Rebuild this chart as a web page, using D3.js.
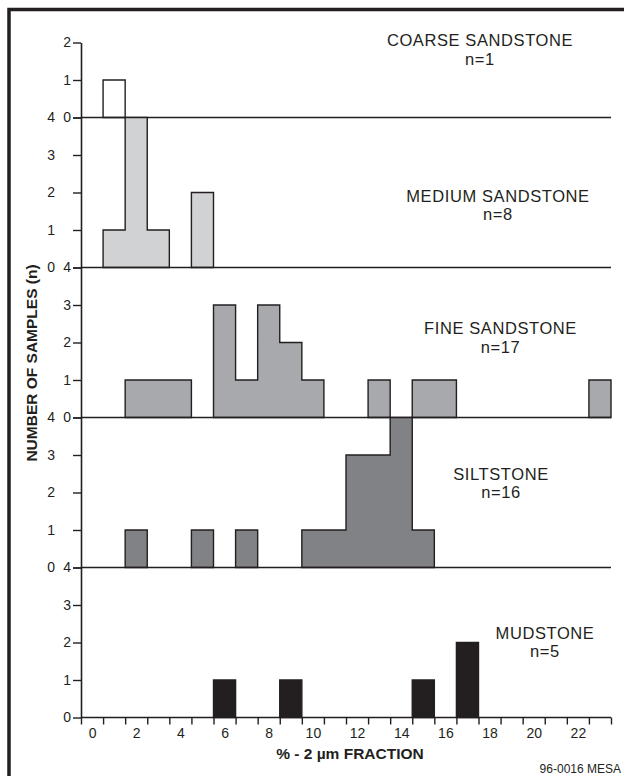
<!DOCTYPE html>
<html><head><meta charset="utf-8">
<script src="https://cdn.jsdelivr.net/npm/d3@7/dist/d3.min.js"></script>
<style>
html,body{margin:0;padding:0;background:#fff;}
svg{display:block;font-family:"Liberation Sans",Arial,Helvetica,sans-serif;}
</style></head><body>
<svg id="chart" width="624" height="776"></svg>
<script>
// ---- data ----
const bins = d3.range(0, 24);              // % -2 µm fraction bins (centres)
const panels = ["COARSE SANDSTONE", "MEDIUM SANDSTONE", "FINE SANDSTONE", "SILTSTONE", "MUDSTONE"];
const sampleN = [1, 8, 17, 16, 5];
const panelMax = [2, 4, 4, 4, 4];
const coarse = [0,1,0,0,0,0,0,0,0,0,0,0,0,0,0,0,0,0,0,0,0,0,0,0];
const medium = [0,1,4,1,0,2,0,0,0,0,0,0,0,0,0,0,0,0,0,0,0,0,0,0];
const fine   = [0,0,1,1,1,0,3,1,3,2,1,0,0,1,0,1,1,0,0,0,0,0,0,1];
const silt   = [0,0,1,0,0,1,0,1,0,0,1,1,3,3,4,1,0,0,0,0,0,0,0,0];
const mud    = [0,0,0,0,0,0,1,0,0,1,0,0,0,0,0,1,0,2,0,0,0,0,0,0];
const series = [coarse, medium, fine, silt, mud];
const xLabels = [0,2,4,6,8,10,12,14,16,18,20,22];

// ---- styles ----
const ink = "#231f20";
const fills = ["#ffffff", "#d1d2d4", "#a7a9ac", "#808285", "#231f20"];
const labelPos = [[480, 46], [498, 201.5], [500.5, 334], [501, 479.5], [545, 638.5]];
const tickPad = [2, 18, 2, 18, 2];

const svg = d3.select("#chart");
// frame
svg.append("path").attr("d", "M9,776 V9.5 H624").attr("fill","none")
   .attr("stroke", ink).attr("stroke-width", 3.5);

const x = d3.scaleLinear().domain([-0.5, 23.5]).range([81, 611]);
const panelH = 150, base0 = 117.5;

series.forEach((vals, i) => {
  const yBase = base0 + panelH * i;
  const y = d3.scaleLinear().domain([0, panelMax[i]]).range([yBase, yBase - 37.5 * panelMax[i]]);
  const g = svg.append("g");
  // step outlines for contiguous runs
  let runs = [], cur = null;
  vals.forEach((v, k) => {
    if (v > 0) { if (!cur) { cur = []; runs.push(cur); } cur.push(k); }
    else cur = null;
  });
  runs.forEach(r => {
    let d = `M${x(r[0]-0.5)},${y(0)}`;
    r.forEach(k => { d += ` L${x(k-0.5)},${y(vals[k])} L${x(k+0.5)},${y(vals[k])}`; });
    d += ` L${x(r[r.length-1]+0.5)},${y(0)} Z`;
    g.append("path").attr("d", d).attr("fill", fills[i]).attr("stroke", ink)
      .attr("stroke-width", 1.4).attr("stroke-linejoin", "miter");
  });
  // baseline
  g.append("line").attr("x1", x(-0.5)).attr("x2", x(23.5)).attr("y1", y(0)).attr("y2", y(0))
    .attr("stroke", ink).attr("stroke-width", 1.6);
  // y axis
  const ax = svg.append("g").attr("transform", `translate(${x(-0.5)},0)`)
    .call(d3.axisLeft(y).ticks(panelMax[i]).tickFormat(d3.format("d"))
      .tickSize(8).tickSizeOuter(0).tickPadding(tickPad[i]));
  ax.select(".domain").attr("stroke", ink).attr("stroke-width", 1.6);
  ax.selectAll(".tick line").attr("stroke", ink).attr("stroke-width", 1.4);
  ax.selectAll(".tick text").attr("fill", ink).style("font-size", "14px");
  // panel label (two separate lines)
  svg.append("text").attr("x", labelPos[i][0]).attr("y", labelPos[i][1])
    .attr("text-anchor", "middle").attr("fill", ink)
    .style("font-size", "16.5px").style("letter-spacing", "0.6px")
    .text(panels[i]);
  svg.append("text").attr("x", labelPos[i][0]).attr("y", labelPos[i][1] + 18.5)
    .attr("text-anchor", "middle").attr("fill", ink)
    .style("font-size", "16.5px").style("letter-spacing", "0.6px")
    .text("n=" + sampleN[i]);
});

// x axis
const yAxisPos = base0 + panelH * 4;
const xa = svg.append("g").attr("transform", `translate(0,${yAxisPos})`)
  .call(d3.axisBottom(x).tickValues(d3.range(-0.5, 24, 1)).tickFormat("").tickSize(7).tickSizeOuter(0));
xa.select(".domain").remove();
xa.selectAll(".tick line").attr("stroke", ink).attr("stroke-width", 1.4);
const xl = svg.append("g").attr("transform", `translate(0,${yAxisPos})`)
  .call(d3.axisBottom(x).tickValues(xLabels).tickFormat(d3.format("d")).tickSize(0).tickPadding(10.5));
xl.select(".domain").remove();
xl.selectAll(".tick text").attr("fill", ink).style("font-size", "14px");

// axis titles
svg.append("text").attr("x", 350).attr("y", 759).attr("text-anchor", "middle")
  .attr("fill", ink).style("font-size", "15.5px").style("font-weight", "bold")
  .text("% - 2 µm FRACTION");
svg.append("text").attr("transform", "translate(36.5,363) rotate(-90)").attr("text-anchor", "middle")
  .attr("fill", ink).style("font-size", "15.5px").style("font-weight", "bold")
  .text("NUMBER OF SAMPLES (n)");
svg.append("text").attr("x", 621).attr("y", 773).attr("text-anchor", "end")
  .attr("fill", ink).style("font-size", "12px").text("96-0016 MESA");
</script>
</body></html>
